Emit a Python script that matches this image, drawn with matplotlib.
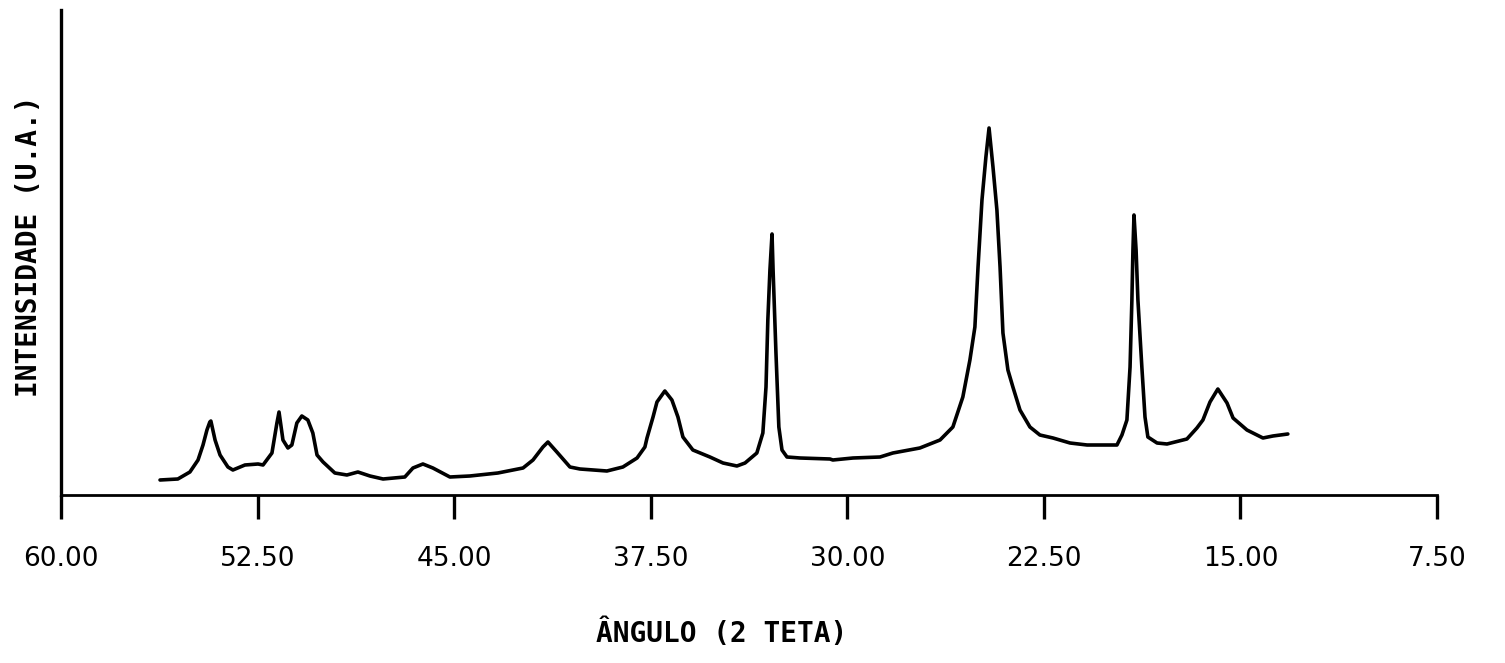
import matplotlib.pyplot as plt

# diffractogram trace: 2-theta (deg) and intensity (a.u.)
angle = [56.22, 55.54, 55.08, 54.77, 54.58, 54.43, 54.32, 54.28, 54.12, 53.93,
         53.63, 53.44, 52.98, 52.48, 52.29, 51.95, 51.76, 51.68, 51.53, 51.34,
         51.19, 51.00, 50.81, 50.58, 50.39, 50.23, 50.00, 49.55, 49.09, 48.67,
         48.21, 47.71, 46.88, 46.57, 46.19, 45.81, 45.16, 44.40, 43.33, 42.37,
         41.99, 41.61, 41.42, 41.08, 40.58, 40.20, 39.17, 38.56, 38.02, 37.72,
         37.64, 37.41, 37.26, 36.96, 36.69, 36.46, 36.27, 35.89, 35.24, 34.74,
         34.21, 33.90, 33.45, 33.22, 33.10, 33.03, 32.95, 32.87, 32.83, 32.72,
         32.61, 32.49, 32.30, 31.80, 30.66, 30.55, 29.78, 28.75, 28.26, 27.23,
         26.46, 25.97, 25.59, 25.32, 25.13, 25.01, 24.86, 24.71, 24.59, 24.44,
         24.29, 24.17, 24.06, 23.87, 23.68, 23.41, 23.03, 22.65, 22.15, 21.50,
         20.85, 19.71, 19.52, 19.33, 19.21, 19.14, 19.10, 19.06, 18.98, 18.91,
         18.76, 18.64, 18.53, 18.18, 17.80, 17.04, 16.66, 16.43, 16.16, 15.86,
         15.51, 15.28, 14.75, 14.14, 13.76, 13.19]
intensity = [15, 16, 23, 35, 50, 65, 73, 74, 55, 40,
             28, 25, 30, 31, 30, 42, 72, 83, 55, 47,
             50, 72, 79, 75, 62, 40, 33, 22, 20, 23,
             19, 16, 18, 27, 31, 27, 18, 19, 22, 27,
             35, 48, 53, 43, 28, 26, 24, 28, 37, 48,
             57, 78, 93, 104, 95, 78, 58, 45, 38, 32,
             29, 32, 42, 62, 108, 175, 225, 261, 225, 142,
             68, 45, 38, 37, 36, 35, 37, 38, 42, 47,
             55, 68, 98, 135, 168, 228, 295, 338, 367, 328,
             285, 228, 162, 125, 108, 85, 68, 60, 57, 52,
             50, 50, 60, 75, 128, 195, 245, 280, 245, 195,
             128, 78, 58, 52, 51, 56, 67, 75, 93, 106,
             92, 77, 65, 57, 59, 61]

tick_vals = [60.0, 52.5, 45.0, 37.5, 30.0, 22.5, 15.0, 7.5]
tick_labels = ["60.00", "52.50", "45.00", "37.50", "30.00", "22.50", "15.00", "7.50"]

fig = plt.figure(figsize=(15.05, 6.63), dpi=100)
ax = fig.add_axes([0.0405, 0.2534, 0.9143, 0.7315])

ax.plot(angle, intensity, color="black", linewidth=2.6,
        solid_joinstyle="round", solid_capstyle="round")

ax.set_xlim(60, 7.5)
ax.set_ylim(0, 485)

for side in ["top", "right"]:
    ax.spines[side].set_visible(False)
ax.spines["left"].set_linewidth(2.4)
ax.spines["bottom"].set_linewidth(2.0)

ax.set_xticks(tick_vals)
ax.set_xticklabels(tick_labels)
ax.tick_params(axis="x", direction="out", length=17, width=2.4, pad=20,
               labelsize=19, colors="black")
ax.set_yticks([])

ax.set_xlabel("ÂNGULO (2 TETA)", fontsize=20, fontweight="bold",
              fontfamily="DejaVu Sans Mono")
ax.xaxis.set_label_coords(0.480, -0.255)
ax.set_ylabel("INTENSIDADE (U.A.)", fontsize=20, fontweight="bold",
              fontfamily="DejaVu Sans Mono")
ax.yaxis.set_label_coords(-0.013, 0.513)

fig.savefig("out.png", dpi=100, facecolor="white")
